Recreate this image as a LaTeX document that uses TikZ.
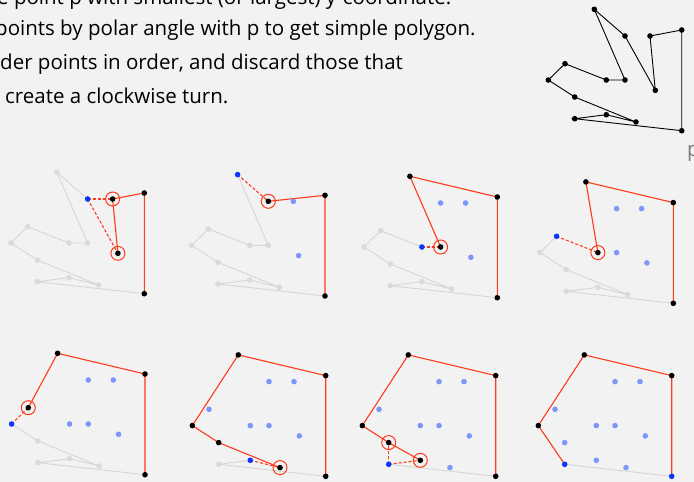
\documentclass[tikz,border=0pt]{standalone}
\usepackage{fontspec}
\setmainfont{Open Sans}
\definecolor{diagramBg}{HTML}{F2F2F2}
\definecolor{diagramHull}{HTML}{FF3A1A}
\definecolor{diagramSpare}{HTML}{D6D6D6}
\definecolor{diagramSpareDot}{HTML}{DADADA}
\definecolor{diagramCur}{HTML}{0A36FF}
\definecolor{diagramGone}{HTML}{7C96FA}
\definecolor{diagramLabel}{HTML}{7A7A7A}

% the 14 points, placed relative to p
\newcommand{\hullpts}[1]{%
  \foreach \n/\px/\py in {0/0/0,1/0/-100.7,2/-31.7/-94.7,3/-26.4/-40.4,4/-56.7/-94.7,
      5/-87.4/-121.4,6/-56.7/-50.7,7/-75.4/-50.7,8/-116.7/-67,9/-133.4/-50.7,
      10/-107/-33.7,11/-45.7/-8.7,12/-75.4/-16,13/-107/-12}
    {\coordinate (#1\n) at (\px,\py);}}
\newcommand{\putdots}[3]{\foreach \i in {#2}{\fill[#3] (#1\i) circle (2.8);}}

\begin{document}
\begin{tikzpicture}[
    x=1pt,y=-1pt,
    every node/.style={font=\fontsize{20.5}{22}\selectfont,inner sep=0pt},
    kept/.style={draw=diagramHull,line width=1.1pt},
    spare/.style={draw=diagramSpare,line width=0.9pt},
    probe/.style={draw=diagramHull,line width=1.1pt,dash pattern=on 3pt off 2pt},
    ring/.style={draw=diagramHull,line width=1pt},
    thumbline/.style={draw=black,line width=0.9pt}
]
\fill[diagramBg] (0,0) rectangle (694,482);
\useasboundingbox (0,0) rectangle (694,482);

\begin{scope}
\clip (0,0) rectangle (694,482);
\node[anchor=base west] (line1) at (-3,4.5) {e point p with smallest (or largest) y-coordinate.};
\node[anchor=base west] (line2) at (-5,35.5) {points by polar angle with p to get simple polygon.};
\node[anchor=base west] (line3) at (0,69) {der points in order, and discard those that};
\node[anchor=base west] (line4) at (5,103) {create a clockwise turn.};
\node[anchor=base west,text=diagramLabel] (plabel) at (687,156.5) {p};
\end{scope}

% simple polygon
\begin{scope}[shift={(681.7,130.7)}]
  \hullpts{t}
  \draw[thumbline] (t0) -- (t1) -- (t2) -- (t3) -- (t4) -- (t5) -- (t6) -- (t7) -- (t8) -- (t9) -- (t10) -- (t11) -- (t12) -- (t13) -- cycle;
  \putdots{t}{0,...,13}{black}
\end{scope}

% step 1
\begin{scope}[shift={(144.3,293.7)}]
  \hullpts{a}
  \draw[spare] (a4) -- (a5) -- (a6) -- (a7) -- (a8) -- (a9) -- (a10) -- (a11) -- (a12) -- (a13) -- (a0);
  \draw[kept] (a0) -- (a1) -- (a2) -- (a3);
  \draw[probe] (a4) -- (a2);
  \draw[probe] (a4) -- (a3);
  \putdots{a}{5,...,13}{diagramSpareDot}
  \putdots{a}{0,1,2,3}{black}
  \putdots{a}{4}{diagramCur}
  \draw[ring] (a2) circle (7) (a3) circle (7);
\end{scope}

% step 2
\begin{scope}[shift={(325,296)}]
  \hullpts{b}
  \draw[spare] (b5) -- (b6) -- (b7) -- (b8) -- (b9) -- (b10) -- (b11) -- (b12) -- (b13) -- (b0);
  \draw[kept] (b0) -- (b1) -- (b4);
  \draw[probe] (b5) -- (b4);
  \putdots{b}{6,...,13}{diagramSpareDot}
  \putdots{b}{2,3}{diagramGone}
  \putdots{b}{0,1,4}{black}
  \putdots{b}{5}{diagramCur}
  \draw[ring] (b4) circle (7);
\end{scope}

% step 3
\begin{scope}[shift={(497.3,297.7)}]
  \hullpts{c}
  \draw[spare] (c7) -- (c8) -- (c9) -- (c10) -- (c11) -- (c12) -- (c13) -- (c0);
  \draw[kept] (c0) -- (c1) -- (c5) -- (c6);
  \draw[probe] (c7) -- (c6);
  \putdots{c}{8,...,13}{diagramSpareDot}
  \putdots{c}{2,3,4}{diagramGone}
  \putdots{c}{0,1,5,6}{black}
  \putdots{c}{7}{diagramCur}
  \draw[ring] (c6) circle (7);
\end{scope}

% step 4
\begin{scope}[shift={(673.3,303.3)}]
  \hullpts{d}
  \draw[spare] (d8) -- (d9) -- (d10) -- (d11) -- (d12) -- (d13) -- (d0);
  \draw[kept] (d0) -- (d1) -- (d5) -- (d7);
  \draw[probe] (d8) -- (d7);
  \putdots{d}{9,...,13}{diagramSpareDot}
  \putdots{d}{2,3,4,6}{diagramGone}
  \putdots{d}{0,1,5,7}{black}
  \putdots{d}{8}{diagramCur}
  \draw[ring] (d7) circle (7);
\end{scope}

% step 5
\begin{scope}[shift={(145,474.7)}]
  \hullpts{e}
  \draw[spare] (e9) -- (e10) -- (e11) -- (e12) -- (e13) -- (e0);
  \draw[kept] (e0) -- (e1) -- (e5) -- (e8);
  \draw[probe] (e9) -- (e8);
  \putdots{e}{10,...,13}{diagramSpareDot}
  \putdots{e}{2,3,4,6,7}{diagramGone}
  \putdots{e}{0,1,5,8}{black}
  \putdots{e}{9}{diagramCur}
  \draw[ring] (e8) circle (7);
\end{scope}

% step 6
\begin{scope}[shift={(325.7,476.3)}]
  \hullpts{f}
  \draw[spare] (f12) -- (f13) -- (f0);
  \draw[kept] (f0) -- (f1) -- (f5) -- (f9) -- (f10) -- (f11);
  \draw[probe] (f12) -- (f11);
  \putdots{f}{13}{diagramSpareDot}
  \putdots{f}{2,3,4,6,7,8}{diagramGone}
  \putdots{f}{0,1,5,9,10,11}{black}
  \putdots{f}{12}{diagramCur}
  \draw[ring] (f11) circle (7);
\end{scope}

% step 7
\begin{scope}[shift={(495.7,476.3)}]
  \hullpts{g}
  \draw[spare] (g13) -- (g0);
  \draw[kept] (g0) -- (g1) -- (g5) -- (g9) -- (g10) -- (g12);
  \draw[probe] (g13) -- (g10);
  \draw[probe] (g13) -- (g12);
  \putdots{g}{2,3,4,6,7,8,11}{diagramGone}
  \putdots{g}{0,1,5,9,10,12}{black}
  \putdots{g}{13}{diagramCur}
  \draw[ring] (g10) circle (7) (g12) circle (7);
\end{scope}

% final hull
\begin{scope}[shift={(671.7,476.3)}]
  \hullpts{h}
  \draw[spare] (h13) -- (h0);
  \draw[kept] (h0) -- (h1) -- (h5) -- (h9) -- (h13);
  \putdots{h}{2,3,4,6,7,8,10,11,12}{diagramGone}
  \putdots{h}{1,5,9}{black}
  \putdots{h}{0,13}{diagramCur}
\end{scope}
\end{tikzpicture}
\end{document}
